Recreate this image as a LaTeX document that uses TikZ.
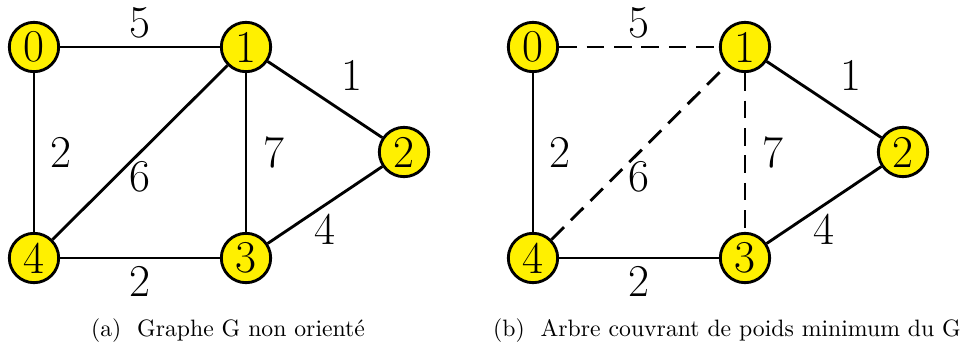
\documentclass[tikz,border=0pt]{standalone}
\usepackage{xcolor}
\usepackage{tikz}
\usetikzlibrary{positioning}
\definecolor{jaune}{RGB}{255,240,0}

\begin{document}
\begin{tikzpicture}[x=0.016cm, y=-0.016cm,
  sommet/.style={circle, draw, fill=jaune, line width=1.3pt, minimum size=0.79cm,
                 inner sep=0pt, font=\huge},
  arete/.style={line width=1.3pt},
  ecartee/.style={arete, dash pattern=on 8pt off 4.5pt},
  poids/.style={font=\huge},
  legende/.style={font=\fontsize{10.8}{13}\selectfont}]
  \useasboundingbox (0,0) rectangle (963,347);
  % (a) graphe G non oriente
  \node[sommet] (a0) at (34,47) {0};
  \node[sommet] (a1) at (246,47) {1};
  \node[sommet] (a2) at (404,152) {2};
  \node[sommet] (a3) at (246,258) {3};
  \node[sommet] (a4) at (34,258) {4};
  \draw[arete] (a0) -- node[poids, above] {5} (a1);
  \draw[arete] (a0) -- node[poids, right, xshift=3.5pt] {2} (a4);
  \draw[arete] (a4) -- node[poids, below] {6} (a1);
  \draw[arete] (a1) -- node[poids, right, xshift=4pt] {7} (a3);
  \draw[arete] (a1) -- node[poids, above right, xshift=3.5pt] {1} (a2);
  \draw[arete] (a3) -- node[poids, below] {4} (a2);
  \draw[arete] (a4) -- node[poids, below] {2} (a3);
  \node[legende] (capa) at (228,331) {(a)~~Graphe G non orienté};
  % (b) arbre couvrant de poids minimum
  \node[sommet] (b0) at (533,47) {0};
  \node[sommet] (b1) at (745,47) {1};
  \node[sommet] (b2) at (903,152) {2};
  \node[sommet] (b3) at (745,258) {3};
  \node[sommet] (b4) at (533,258) {4};
  \draw[ecartee] (b0) -- node[poids, above] {5} (b1);
  \draw[arete] (b0) -- node[poids, right, xshift=3.5pt] {2} (b4);
  \draw[ecartee] (b4) -- node[poids, below] {6} (b1);
  \draw[ecartee] (b1) -- node[poids, right, xshift=4pt] {7} (b3);
  \draw[arete] (b1) -- node[poids, above right, xshift=3.5pt] {1} (b2);
  \draw[arete] (b3) -- node[poids, below] {4} (b2);
  \draw[arete] (b4) -- node[poids, below] {2} (b3);
  \node[legende] (capb) at (727,331) {(b)~~Arbre couvrant de poids minimum du G};
\end{tikzpicture}
\end{document}
